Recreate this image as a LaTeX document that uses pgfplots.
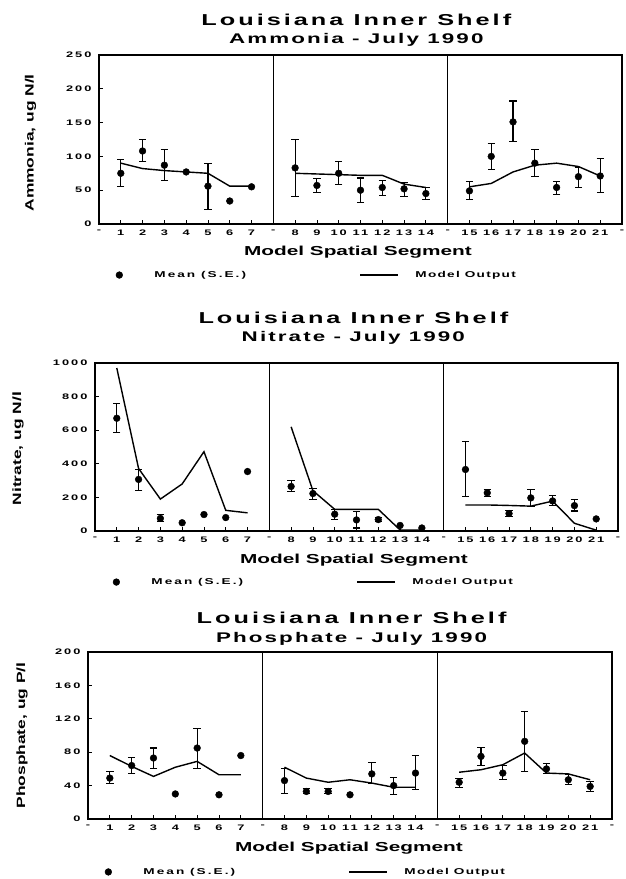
\documentclass[border=0pt]{standalone}
\usepackage{fontspec}
\usepackage{pgfplots}
\pgfplotsset{compat=1.18}

\newfontfamily\wf{Liberation Sans}[FakeStretch=1.6]
\newfontfamily\yf{Liberation Sans}[FakeStretch=1.45]
\newcommand\titlef{\wf\bfseries\fontsize{15.8}{18.5}\selectfont\addfontfeature{LetterSpace=19}}
\newcommand\subf{\wf\bfseries\fontsize{14}{18.5}\selectfont\addfontfeature{LetterSpace=15}}
\newcommand\tickf{\wf\bfseries\fontsize{8}{9}\selectfont\addfontfeature{LetterSpace=25}}
\newcommand\xlabf{\wf\bfseries\fontsize{13}{15}\selectfont}
\newcommand\ylabf{\yf\bfseries\fontsize{12}{14}\selectfont}
\newcommand\legf{\wf\bfseries\fontsize{8.5}{10}\selectfont\addfontfeature{LetterSpace=15}}

\pgfplotsset{
  panel/.style={
    scale only axis, anchor=south west,
    xmin=0, xmax=24, xtick={0,...,24},
    xticklabels={-,1,2,3,4,5,6,7,-,8,9,10,11,12,13,14,-,15,16,17,18,19,20,21,-},
    tick align=inside, xtick pos=bottom, ytick pos=left,
    major tick length=4pt, tick style={black, line width=0.8pt},
    axis line style={line width=1.1pt},
    /pgf/number format/assume math mode=true,
    /pgf/number format/1000 sep={},
    tick label style={font=\tickf},
    xticklabel style={yshift=-2pt},
    yticklabel style={xshift=-4pt},
    xlabel={Model Spatial Segment},
    xlabel style={font=\xlabf, anchor=center},
    ylabel style={font=\ylabf, anchor=center},
    title style={font=\titlef, align=center, anchor=south, inner sep=0pt},
    legend columns=2,
    legend style={draw=none, fill=none, inner sep=0pt, anchor=west, font=\legf,
      cells={anchor=west}, nodes={inner sep=0pt}},
  },
  errp/.style={only marks, black, mark=*, mark size=3.4pt, forget plot,
    error bars/.cd, y dir=both, y explicit,
    error bar style={line width=1.1pt},
    error mark options={rotate=90, line width=1.1pt, mark size=3.7pt, black}},
  dots/.style={only marks, black, mark=*, mark size=3.4pt, forget plot},
  model/.style={black, line width=1.4pt, no markers, forget plot},
  divider/.style={black, line width=1.1pt, forget plot},
}

\newcommand\legendrow{%
  \addlegendimage{legend image code/.code={\path[draw=none, fill=none] (0pt,0pt) -- (38.5pt,0pt);
    \draw[black, mark=*, mark size=3.4pt] plot coordinates {(3.4pt,0pt)};}}
  \addlegendentry{\makebox[88pt][l]{\addfontfeature{LetterSpace=24}Mean (S.E.)}}
  \addlegendimage{legend image code/.code={\path[draw=none, fill=none] (0pt,0pt) -- (173pt,0pt);
    \draw[black, line width=1.4pt] (118pt,0pt) -- (156pt,0pt);}}
  \addlegendentry{Model Output}}

\begin{document}
\begin{tikzpicture}
\useasboundingbox (0,0) rectangle (625pt,879pt);

% ---------------- Ammonia ----------------
\begin{axis}[panel, at={(99pt,655pt)}, width=523pt, height=169pt,
    ymin=0, ymax=250, ytick={0,50,...,250},
    ylabel={Ammonia, ug N/l},
    ylabel style={at={(axis description cs:-0.131,0.48)}},
    xlabel style={at={(axis description cs:0.495,-0.166)}},
    title={Louisiana Inner Shelf\\\subf Ammonia - July 1990},
    title style={at={(0.492,1)}, yshift=2pt},
    legend style={at={(0.032,-0.302)}}]
  \addplot[divider] coordinates {(8,0) (8,250)};
  \addplot[divider] coordinates {(16,0) (16,250)};
  \addplot[errp] table[x=x, y=y, y error plus=ep, y error minus=em] {
x y ep em
1 75 21 20
2 108 17 16
3 87 23 22
5 56 34 35
9 83 42 42
10 57 10 10
11 75 18 17
12 50 18 18
13 54 11 12
14 52 10 11
15 45 9 9
17 49 14 13
18 100 19 20
19 151 31 29
20 90 20 20
21 54 9 10
22 70 13 16
23 71 26 25
};
  \addplot[dots] coordinates {(4,77) (6,34) (7,55)};
  \addplot[model] coordinates {(1,90) (2,82) (3,79) (4,77) (5,75) (6,56) (7,56)};
  \addplot[model] coordinates {(9,75) (10,74) (11,73) (12,72) (13,72) (14,59) (15,54)};
  \addplot[model] coordinates {(17,55) (18,60) (19,77) (20,87) (21,90) (22,85) (23,71)};
  \legendrow
\end{axis}

% ---------------- Nitrate ----------------
\begin{axis}[panel, at={(95pt,348pt)}, width=523pt, height=168pt,
    ymin=0, ymax=1000, ytick={0,200,...,1000},
    ylabel={Nitrate, ug N/l},
    ylabel style={at={(axis description cs:-0.147,0.49)}},
    xlabel style={at={(axis description cs:0.495,-0.173)}},
    title={Louisiana Inner Shelf\\\subf Nitrate - July 1990},
    title style={at={(0.494,1)}, yshift=12pt},
    legend style={at={(0.034,-0.304)}}]
  \addplot[divider] coordinates {(8,0) (8,1000)};
  \addplot[divider] coordinates {(16,0) (16,1000)};
  \addplot[errp] table[x=x, y=y, y error plus=ep, y error minus=em] {
x y ep em
1 671 90 85
2 307 60 64
3 75 25 20
9 265 35 30
10 223 30 36
11 100 27 30
12 66 48 48
13 68 12 12
17 366 166 163
18 227 22 24
19 104 18 18
20 197 50 52
21 179 30 28
22 151 34 32
};
  \addplot[dots] coordinates {(4,49) (5,98) (6,80) (7,354) (14,33) (15,18) (23,72)};
  \addplot[model] coordinates {(1,970) (2,372) (3,190) (4,280) (5,472) (6,123) (7,108)};
  \addplot[model] coordinates {(9,620) (10,240) (11,129) (12,129) (13,129) (14,6) (15,6)};
  \addplot[model] coordinates {(17,155) (18,155) (19,152) (20,148) (21,178) (22,46) (23,5)};
  \legendrow
\end{axis}

% ---------------- Phosphate ----------------
\begin{axis}[panel, at={(88pt,60pt)}, width=524pt, height=167pt,
    ymin=0, ymax=200, ytick={0,40,...,200},
    ylabel={Phosphate, ug P/l},
    ylabel style={at={(axis description cs:-0.126,0.5)}},
    xlabel style={at={(axis description cs:0.498,-0.174)}},
    title={Louisiana Inner Shelf\\\subf Phosphate - July 1990},
    title style={at={(0.503,1)}, yshift=0.5pt},
    legend style={at={(0.032,-0.317)}}]
  \addplot[divider] coordinates {(8,0) (8,200)};
  \addplot[divider] coordinates {(16,0) (16,200)};
  \addplot[errp] table[x=x, y=y, y error plus=ep, y error minus=em] {
x y ep em
1 49 8 7
2 64 10 10
3 73 12 12
5 85 23 24
9 46 15 16
10 33 3 3
11 33 4 3
13 54 14 12
14 40 10 11
15 55 21 20
17 44 5 6
18 75 11 11
19 55 9 8
20 93 36 36
21 60 6 5
22 47 6 6
23 39 6 6
};
  \addplot[dots] coordinates {(4,30) (6,29) (7,76) (12,29)};
  \addplot[model] coordinates {(1,76) (2,63) (3,51) (4,62) (5,69) (6,53) (7,53)};
  \addplot[model] coordinates {(9,62) (10,49) (11,44) (12,47) (13,43) (14,38) (15,38)};
  \addplot[model] coordinates {(17,56) (18,59) (19,65) (20,79) (21,55) (22,54) (23,47)};
  \legendrow
\end{axis}
\end{tikzpicture}
\end{document}
